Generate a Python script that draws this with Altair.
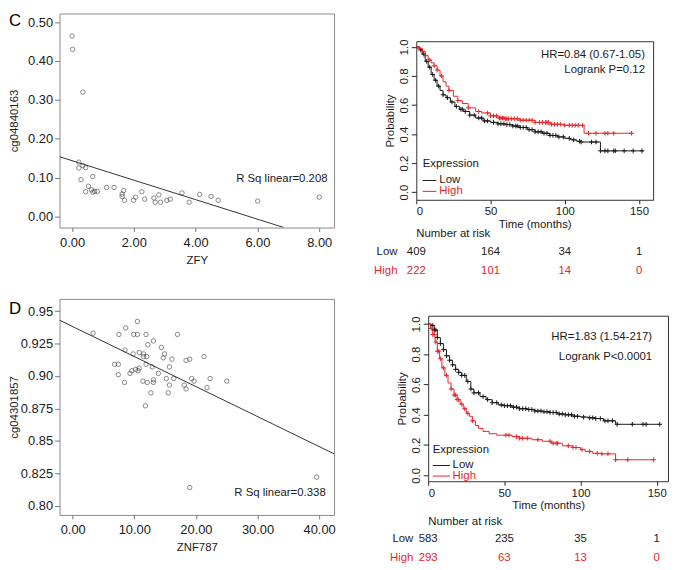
import altair as alt
import pandas as pd
import numpy as np

FONT = "Liberation Sans"
RED = "#e8252b"
BLK = "#1a1a1a"

# ---------------- Panel C scatter ----------------
c_x = [0.00, 0.02, 0.35, 0.22, 0.22, 0.35, 0.44, 0.29, 0.67, 0.53, 0.44, 0.63, 0.67, 0.73, 0.82,
       1.12, 1.36, 1.67, 1.62, 1.62, 1.70, 1.99, 2.06, 2.26, 2.35, 2.65, 2.69, 2.81, 2.86, 3.07,
       3.18, 3.56, 3.79, 4.13, 4.50, 4.73, 6.01, 8.00]
c_y = [0.464, 0.430, 0.320, 0.140, 0.125, 0.131, 0.126, 0.095, 0.103, 0.078, 0.064, 0.069, 0.063,
       0.065, 0.065, 0.075, 0.075, 0.067, 0.058, 0.052, 0.042, 0.042, 0.050, 0.064, 0.045, 0.048,
       0.037, 0.056, 0.037, 0.042, 0.045, 0.061, 0.037, 0.057, 0.052, 0.042, 0.040, 0.050]
c_line_x = [-0.405, 6.86]
c_line_y = [0.154, -0.028]

# ---------------- Panel D scatter ----------------
d_x = [3.3, 7.5, 8.6, 10.5, 9.9, 10.5, 11.9, 17.0, 13.1, 8.5, 12.2, 14.4, 9.8, 10.8, 11.5, 14.9,
       12.0, 11.5, 14.7, 21.3, 16.1, 19.0, 18.4, 6.8, 7.4, 11.9, 12.9, 10.8, 15.7, 9.6, 10.2, 10.6,
       7.4, 9.3, 13.9, 8.4, 11.4, 13.1, 13.1, 12.1, 15.2, 15.7, 16.4, 18.1, 18.4, 19.3, 19.7, 21.8,
       22.3, 25.0, 12.7, 15.5, 11.8, 19.0, 39.6]
d_y = [0.933, 0.932, 0.937, 0.942, 0.932, 0.932, 0.932, 0.932, 0.927, 0.920, 0.924, 0.922, 0.917,
       0.918, 0.917, 0.917, 0.915, 0.915, 0.914, 0.915, 0.913, 0.913, 0.912, 0.909, 0.909, 0.909,
       0.907, 0.906, 0.907, 0.904, 0.905, 0.904, 0.901, 0.902, 0.902, 0.895, 0.896, 0.897, 0.895,
       0.895, 0.898, 0.893, 0.898, 0.893, 0.890, 0.898, 0.896, 0.891, 0.898, 0.896, 0.887, 0.887,
       0.877, 0.814, 0.822]
d_line_x = [-2.14, 42.42]
d_line_y = [0.943, 0.840]

# ---------------- Panel C Kaplan-Meier ----------------
ck_low_t = [0, 2, 4, 6, 8, 10, 12, 14, 16, 18, 20, 23, 26, 29, 32, 36, 40, 45, 50, 55, 60, 65, 70,
            75, 80, 85, 90, 95, 100, 104, 108, 111, 124, 153]
ck_low_s = [1.0, 0.98, 0.95, 0.90, 0.86, 0.81, 0.77, 0.73, 0.70, 0.67, 0.65, 0.62, 0.59, 0.57,
            0.555, 0.53, 0.51, 0.49, 0.48, 0.47, 0.465, 0.455, 0.445, 0.43, 0.415, 0.405, 0.39,
            0.38, 0.37, 0.36, 0.35, 0.345, 0.284, 0.284]
ck_high_t = [0, 2, 4, 6, 8, 10, 12, 14, 16, 18, 20, 22, 25, 28, 31, 35, 40, 44, 50, 55, 60, 70, 80,
             90, 100, 113, 145.5]
ck_high_s = [1.0, 0.99, 0.97, 0.94, 0.91, 0.89, 0.87, 0.84, 0.80, 0.76, 0.73, 0.70, 0.66, 0.63,
             0.61, 0.58, 0.555, 0.545, 0.525, 0.51, 0.505, 0.495, 0.48, 0.467, 0.46, 0.405, 0.405]
ck_low_cens = [3, 5, 7, 9, 11, 13, 15, 18, 21, 24, 27, 30, 31, 33, 36, 39, 42, 44, 46, 48, 52, 55,
               57, 59, 61, 63, 65, 67, 68, 70, 72, 74, 76, 78, 80, 82, 84, 86, 88, 90, 92, 94, 96,
               99, 103, 106, 110, 111, 118, 121, 124, 127, 129, 133, 134, 140, 146, 152]
ck_high_cens = [2, 4, 6, 9, 12, 14, 17, 22, 28, 35, 42, 48, 50, 52, 54, 56, 57, 58, 59, 60, 61, 62,
                64, 66, 68, 70, 72, 74, 76, 78, 80, 83, 85, 87, 88, 89, 91, 93, 95, 97, 100, 103,
                105, 107, 109, 112, 116, 121, 127, 129, 133, 145]
ck_hr = ["HR=0.84 (0.67-1.05)", "Logrank P=0.12"]
ck_risk_low = ["409", "164", "34", "1"]
ck_risk_high = ["222", "101", "14", "0"]

# ---------------- Panel D Kaplan-Meier ----------------
dk_low_t = [0, 2, 4, 6, 8, 10, 12, 14, 16, 18, 20, 22, 25, 28, 30, 34, 38, 42, 46, 50, 55, 60, 65,
            70, 75, 80, 85, 90, 95, 100, 105, 110, 115, 123, 152]
dk_low_s = [1.0, 0.99, 0.96, 0.91, 0.87, 0.83, 0.79, 0.76, 0.73, 0.70, 0.68, 0.66, 0.62, 0.57,
            0.545, 0.52, 0.50, 0.48, 0.465, 0.46, 0.45, 0.44, 0.435, 0.425, 0.42, 0.415, 0.405,
            0.40, 0.39, 0.385, 0.38, 0.375, 0.36, 0.337, 0.337]
dk_high_t = [0, 1.5, 3, 4.5, 6, 7.5, 9, 11, 13, 15, 17, 19, 21, 23, 25, 27, 29, 31, 33, 36, 40, 45,
             55, 60, 68, 75, 81, 88, 95, 100, 103, 108, 114, 123, 148]
dk_high_s = [1.0, 0.97, 0.93, 0.88, 0.82, 0.77, 0.71, 0.66, 0.61, 0.57, 0.53, 0.50, 0.47, 0.44,
             0.41, 0.39, 0.36, 0.33, 0.31, 0.29, 0.275, 0.265, 0.256, 0.245, 0.235, 0.225, 0.212,
             0.195, 0.184, 0.17, 0.158, 0.145, 0.142, 0.103, 0.103]
dk_low_cens = [3, 4, 5, 6, 8, 10, 12, 14, 16, 18, 20, 22, 24, 26, 28, 30, 33, 36, 39, 42, 45, 48,
               50, 52, 54, 56, 58, 60, 62, 64, 66, 68, 70, 72, 74, 76, 78, 80, 82, 84, 86, 88, 90,
               92, 94, 96, 98, 102, 106, 108, 110, 113, 116, 118, 121, 124, 134, 141, 143, 152]
dk_high_cens = [2, 3, 4, 5, 6, 7, 8, 10, 12, 15, 17, 18, 19, 20, 22, 24, 26, 29, 51, 53, 58, 60,
                62, 65, 72, 80, 82, 84, 85, 92, 95, 97, 101, 106, 111, 114, 118, 123, 131, 148]
dk_hr = ["HR=1.83 (1.54-217)", "Logrank P<0.0001"]
dk_risk_low = ["583", "235", "35", "1"]
dk_risk_high = ["293", "63", "13", "0"]

risk_times = [0, 50, 100, 150]
groups = ["Low", "High"]


def scatter(xs, ys, lx, ly, xdom, ydom, xticks, yticks, xtitle, ytitle, rsq, rsq_x, rsq_y,
            letter, letter_y, w, h):
    xsc = alt.Scale(domain=xdom, nice=False, zero=False)
    ysc = alt.Scale(domain=ydom, nice=False, zero=False)
    xax = alt.Axis(values=xticks, format=".2f", title=xtitle, grid=False, domain=False,
                   tickSize=4, tickColor="#777", labelPadding=5, labelFont=FONT,
                   labelFontSize=13, labelColor=BLK, titleFont=FONT, titleFontSize=11.5,
                   titleFontWeight="normal", titleColor=BLK, titlePadding=5)
    yax = alt.Axis(values=yticks,
                   labelExpr="replace(format(datum.value, '.3f'), regexp('0$'), '')",
                   title=ytitle, grid=False, domain=False, tickSize=5, tickColor="#777",
                   labelPadding=2, labelFont=FONT, labelFontSize=13, labelColor=BLK,
                   titleFont=FONT, titleFontSize=11.5, titleFontWeight="normal",
                   titleColor=BLK, titlePadding=2, minExtent=38, maxExtent=38)
    X = alt.X("x:Q", scale=xsc, axis=xax)
    Y = alt.Y("y:Q", scale=ysc, axis=yax)
    pts = alt.Chart(pd.DataFrame({"x": xs, "y": ys})).mark_point(
        shape="circle", filled=False, size=20, stroke="#3a3a3a", strokeWidth=0.85
    ).encode(x=X, y=Y)
    line = alt.Chart(pd.DataFrame({"x": lx, "y": ly})).mark_line(
        color="#333", strokeWidth=1, clip=True
    ).encode(x=X, y=Y)
    txt = alt.Chart(pd.DataFrame({"x": [rsq_x], "y": [rsq_y], "t": [rsq]})).mark_text(
        align="right", baseline="middle", font=FONT, fontSize=11.5, color=BLK
    ).encode(x=X, y=Y, text="t:N")
    let = alt.Chart(pd.DataFrame({"t": [letter]})).mark_text(
        align="left", baseline="alphabetic", font=FONT, fontSize=17, color="#000"
    ).encode(x=alt.value(-51), y=alt.value(letter_y), text="t:N")
    return alt.layer(pts, line, txt, let).properties(
        width=w, height=h, view=alt.ViewBackground(stroke="#8a8a8a", strokeWidth=1))


def step_lookup(ts, ss, q):
    idx = np.searchsorted(np.array(ts), np.array(q), side="right") - 1
    return [ss[i] for i in idx]


def km(low_t, low_s, high_t, high_s, low_c, high_c, hr, hr_x, hr_y, risk_low, risk_high,
       xmax, ydom, leg, w, h, top_gap, lab_x, rows):
    xsc = alt.Scale(domain=[0, xmax], nice=False, zero=False)
    ysc = alt.Scale(domain=ydom, nice=False, zero=False)
    xax = alt.Axis(values=[0, 50, 100, 150], title="Time (months)", grid=False, domain=False,
                   tickSize=4, tickColor="#222", labelPadding=2, labelFont=FONT,
                   labelFontSize=11.5, labelColor=BLK, titleFont=FONT, titleFontSize=11.5,
                   titleFontWeight="normal", titleColor=BLK, titlePadding=1)
    yax = alt.Axis(values=[0, 0.2, 0.4, 0.6, 0.8, 1.0], format=".1f", title="Probability",
                   grid=False, domain=False, tickSize=5, tickColor="#222", labelPadding=2,
                   labelAngle=270, labelFont=FONT, labelFontSize=11.5, labelColor=BLK,
                   titleFont=FONT, titleFontSize=11.5, titleFontWeight="normal",
                   titleColor=BLK, titlePadding=3)
    X = alt.X("t:Q", scale=xsc, axis=xax)
    Y = alt.Y("s:Q", scale=ysc, axis=yax)
    col = alt.Color("g:N", scale=alt.Scale(domain=groups, range=[BLK, RED]), legend=None)
    curves = pd.concat([
        pd.DataFrame({"t": low_t, "s": low_s, "g": "Low"}),
        pd.DataFrame({"t": high_t, "s": high_s, "g": "High"}),
    ])
    cens = pd.concat([
        pd.DataFrame({"t": low_c, "s": step_lookup(low_t, low_s, low_c), "g": "Low"}),
        pd.DataFrame({"t": high_c, "s": step_lookup(high_t, high_s, high_c), "g": "High"}),
    ])
    lines = alt.Chart(curves).mark_line(interpolate="step-after", strokeWidth=1).encode(
        x=X, y=Y, color=col, detail="g:N")
    marks = alt.Chart(cens).mark_point(shape="M-1,0L1,0M0,-1L0,1", size=22, filled=False,
                                       strokeWidth=1, opacity=1).encode(x=X, y=Y, color=col)
    hrt = alt.Chart(pd.DataFrame({"t": [hr_x, hr_x], "s": hr_y, "txt": hr})).mark_text(
        align="right", baseline="middle", font=FONT, fontSize=11.5, color=BLK
    ).encode(x=X, y=Y, text="txt:N")
    # legend
    lx0, lx1, ltx, ly_title, ly_low, ly_high = leg
    legt = alt.Chart(pd.DataFrame({"t": [lx0], "s": [ly_title], "txt": ["Expression"]})).mark_text(
        align="left", baseline="middle", font=FONT, fontSize=11.5, color=BLK
    ).encode(x=X, y=Y, text="txt:N")
    legl = alt.Chart(pd.DataFrame({"t": [lx0, lx0], "t2": [lx1, lx1], "s": [ly_low, ly_high],
                                   "g": groups})).mark_rule(strokeWidth=1).encode(
        x=X, x2="t2", y=Y, color=col)
    legx = alt.Chart(pd.DataFrame({"t": [ltx, ltx], "s": [ly_low, ly_high], "g": groups})).mark_text(
        align="left", baseline="middle", font=FONT, fontSize=11.5
    ).encode(x=X, y=Y, text="g:N", color=col)
    # risk table
    nar_y, low_y, high_y = rows
    nar = alt.Chart(pd.DataFrame({"txt": ["Number at risk"]})).mark_text(
        align="left", baseline="middle", font=FONT, fontSize=11.5, color=BLK
    ).encode(x=alt.value(0), y=alt.value(h + nar_y), text="txt:N")
    rl = alt.Chart(pd.DataFrame({"t": risk_times, "n": risk_low})).mark_text(
        align="center", baseline="middle", font=FONT, fontSize=11.5, color=BLK
    ).encode(x=X, y=alt.value(h + low_y), text="n:N")
    rh = alt.Chart(pd.DataFrame({"t": risk_times, "n": risk_high})).mark_text(
        align="center", baseline="middle", font=FONT, fontSize=11.5, color=RED
    ).encode(x=X, y=alt.value(h + high_y), text="n:N")
    rlab = alt.Chart(pd.DataFrame({"g": groups, "yy": [h + low_y, h + high_y]})).mark_text(
        align="right", baseline="middle", font=FONT, fontSize=11.5
    ).encode(x=alt.value(lab_x), y=alt.Y("yy:Q", scale=None), text="g:N", color=col)
    main = alt.layer(lines, marks, hrt, legt, legl, legx, nar, rl, rh, rlab).properties(
        width=w, height=h, view=alt.ViewBackground(stroke="#333", strokeWidth=1))
    spacer = alt.Chart(pd.DataFrame({"a": [0]})).mark_point(opacity=0).encode(
        x=alt.value(0), y=alt.value(0)
    ).properties(width=w, height=top_gap,
                 view=alt.ViewBackground(stroke="transparent", strokeWidth=0))
    return alt.vconcat(spacer, main, spacing=0)


cs = scatter(c_x, c_y, c_line_x, c_line_y, [-0.405, 8.48], [-0.028, 0.5221],
             [0, 2, 4, 6, 8], [0, 0.1, 0.2, 0.3, 0.4, 0.5], "ZFY", "cg04840163",
             "R Sq linear=0.208", 8.27, 0.097, "C", 13, 277, 216)
ds = scatter(d_x, d_y, d_line_x, d_line_y, [-2.14, 42.42], [0.7929, 0.9594],
             [0.0, 10.0, 20.0, 30.0, 40.0], [0.8, 0.825, 0.85, 0.875, 0.9, 0.925, 0.95],
             "ZNF787", "cg04301857", "R Sq linear=0.338", 41.07, 0.8094, "D", 15, 277, 218)

ck = km(ck_low_t, ck_low_s, ck_high_t, ck_high_s, ck_low_cens, ck_high_cens, ck_hr, 154,
        [0.945, 0.84], ck_risk_low, ck_risk_high, 159.5, [-0.053, 1.039],
        (4.3, 13.5, 15.5, 0.19, 0.08, 0.005), 239, 160, 25, -19, (35, 53, 72))
dk = km(dk_low_t, dk_low_s, dk_high_t, dk_high_s, dk_low_cens, dk_high_cens, dk_hr, 147,
        [0.915, 0.783], dk_risk_low, dk_risk_high, 157.4, [-0.039, 1.054],
        (3.0, 14.3, 16.0, 0.165, 0.065, -0.005), 242, 167, 16, -15, (41, 58, 77))

row1 = alt.hconcat(cs, ck, spacing=38)
row2 = alt.hconcat(ds, dk, spacing=53)
chart = alt.vconcat(row1, row2, spacing=19).properties(padding=0)

chart.save("out.html", embed_options={"renderer": "svg", "actions": False})
